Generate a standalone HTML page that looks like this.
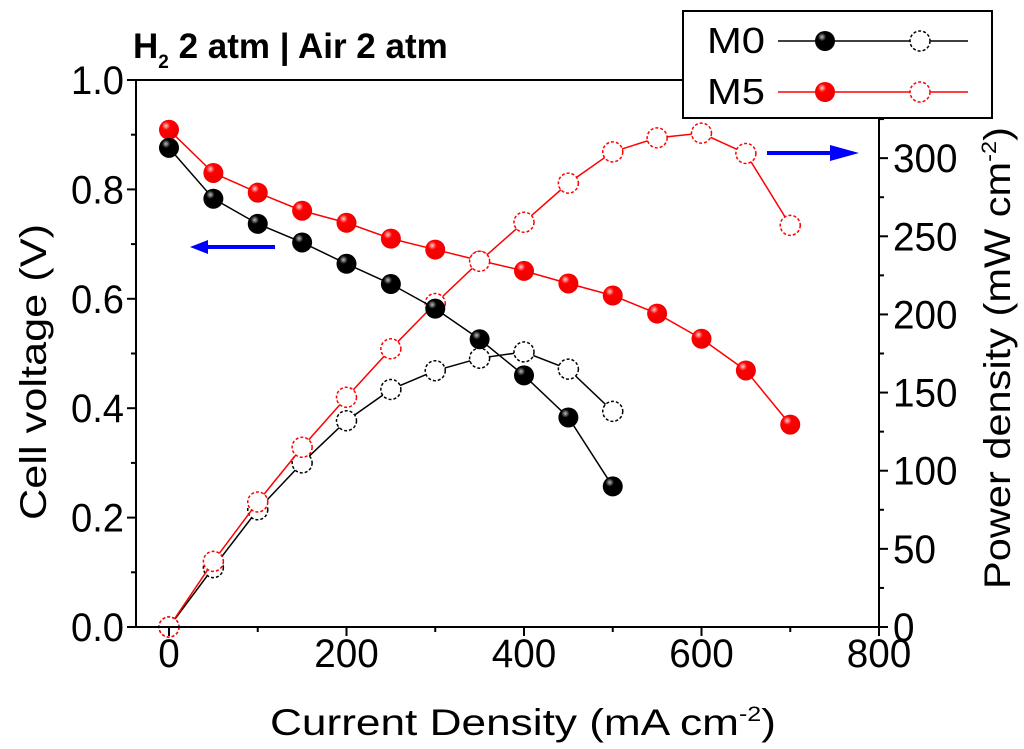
<!DOCTYPE html>
<html><head><meta charset="utf-8"><style>
html,body{margin:0;padding:0;background:#fff;}
svg{display:block;font-family:"Liberation Sans",Arial,sans-serif;}
</style></head><body>
<svg id="chart" width="1024" height="749" viewBox="0 0 1024 749">
<defs>
<radialGradient id="gb" cx="0.35" cy="0.3" r="0.7"><stop offset="0" stop-color="#bbb"/><stop offset="0.3" stop-color="#000"/><stop offset="1" stop-color="#000"/></radialGradient>
<radialGradient id="gr" cx="0.35" cy="0.3" r="0.7"><stop offset="0" stop-color="#fcc"/><stop offset="0.3" stop-color="#f00"/><stop offset="1" stop-color="#e00"/></radialGradient>
</defs>
<g id="marks"></g>
<g id="axes"></g>
<text x="133" y="58" font-size="35" font-weight="bold">H<tspan font-size="19" dy="10">2</tspan><tspan dy="-10"> 2 atm | Air 2 atm</tspan></text>
<text transform="translate(46,372) rotate(-90)" text-anchor="middle" font-size="37" textLength="296" lengthAdjust="spacingAndGlyphs">Cell voltage (V)</text>
<text transform="translate(1010,358) rotate(-90)" text-anchor="middle" font-size="37" textLength="462" lengthAdjust="spacingAndGlyphs">Power density (mW cm<tspan font-size="21" dy="-14">-2</tspan><tspan dy="14">)</tspan></text>
<text x="270" y="735" font-size="37" textLength="506" lengthAdjust="spacingAndGlyphs">Current Density (mA cm<tspan font-size="21" dy="-14">-2</tspan><tspan dy="14">)</tspan></text>
<g><line x1="275" y1="247" x2="205" y2="247" stroke="#00f" stroke-width="4"/><polygon points="190,247 208,240 208,254" fill="#00f"/></g>
<g><line x1="767" y1="153" x2="840" y2="153" stroke="#00f" stroke-width="4"/><polygon points="859,153 830,145 830,161" fill="#00f"/></g>
<g>
<rect x="683" y="11" width="309" height="107" fill="#fff" stroke="#000" stroke-width="2"/>
<text x="707" y="53" font-size="36" textLength="58" lengthAdjust="spacingAndGlyphs">M0</text>
<text x="707" y="104" font-size="36" textLength="58" lengthAdjust="spacingAndGlyphs">M5</text>
<line x1="778" y1="41" x2="968" y2="41" stroke="#000" stroke-width="1.5"/>
<circle cx="825" cy="41" r="10" fill="url(#gb)"/>
<circle cx="920" cy="41" r="10" fill="#fff" stroke="#000" stroke-width="1.5" stroke-dasharray="3,2"/>
<line x1="778" y1="92" x2="968" y2="92" stroke="#f00" stroke-width="1.5"/>
<circle cx="825" cy="92" r="10" fill="url(#gr)"/>
<circle cx="920" cy="92" r="10" fill="#fff" stroke="#f00" stroke-width="1.5" stroke-dasharray="3,2"/>
</g>
</svg>
<script>
const currents=[0,50,100,150,200,250,300,350,400,450,500,550,600,650,700];
const m0Voltage=[0.876,0.783,0.737,0.703,0.664,0.627,0.582,0.526,0.460,0.383,0.257];
const m5Voltage=[0.909,0.830,0.794,0.761,0.739,0.710,0.690,0.670,0.651,0.628,0.606,0.573,0.527,0.469,0.370];
const m0Power=[0,38,75,105,132,152,164,172,176,165,138];
const m5Power=[0,42,80,115,147,178,207,234,259,284,304,313,316,303,257];
const xTicks=[0,200,400,600,800];
const yLeftTicks=[0.0,0.2,0.4,0.6,0.8,1.0];
const yRightTicks=[0,50,100,150,200,250,300];
const L=136,R=879,T=80,B=627;
const X=v=>169+(v/800)*(879-169);
const YL=v=>B-v*(B-T);
const YR=v=>B-v/350*(B-T);
const NS='http://www.w3.org/2000/svg';
function mk(tag,attrs,parent){const e=document.createElementNS(NS,tag);for(const k in attrs)e.setAttribute(k,attrs[k]);parent.appendChild(e);return e;}
function tw(s){let w=0;for(const ch of s)w+=(ch==='.'?10:21.5);return w;}
const ax=document.getElementById('axes'),mg=document.getElementById('marks');
const frame=mk('rect',{x:L,y:T,width:R-L,height:B-T,fill:'none',stroke:'#000','stroke-width':2},ax);


xTicks.forEach(v=>{const x=X(v);mk('line',{x1:x,y1:B,x2:x,y2:B+9,stroke:'#000','stroke-width':2},ax);
 if(v<800){mk('line',{x1:X(v+100),y1:B,x2:X(v+100),y2:B+5,stroke:'#000','stroke-width':2},ax);}
 const s=String(v);
 const t=mk('text',{x:x,y:B+40,'text-anchor':'middle','font-size':40,textLength:tw(s),lengthAdjust:'spacingAndGlyphs'},ax);t.textContent=s;
 
 });
yLeftTicks.forEach(v=>{const y=YL(v);mk('line',{x1:L-9,y1:y,x2:L,y2:y,stroke:'#000','stroke-width':2},ax);
 if(v<1){mk('line',{x1:L-5,y1:YL(v+0.1),x2:L,y2:YL(v+0.1),stroke:'#000','stroke-width':2},ax);}
 const s=v.toFixed(1);
 const t=mk('text',{x:L-12-tw(s),y:y+14,'font-size':40,textLength:tw(s),lengthAdjust:'spacingAndGlyphs'},ax);t.textContent=s;
 
 });
yRightTicks.forEach(v=>{const y=YR(v);mk('line',{x1:R,y1:y,x2:R+9,y2:y,stroke:'#000','stroke-width':2},ax);
 mk('line',{x1:R,y1:YR(v+25),x2:R+5,y2:YR(v+25),stroke:'#000','stroke-width':2},ax);
 const s=String(v);
 const t=mk('text',{x:R+14,y:y+14,'font-size':40,textLength:tw(s),lengthAdjust:'spacingAndGlyphs'},ax);t.textContent=s;
 
 });
function series(vals,yf,color,filled,name){
 const pts=vals.map((v,i)=>[X(currents[i]),yf(v)]);
 const pl=mk('polyline',{points:pts.map(p=>p.join(',')).join(' '),fill:'none',stroke:color,'stroke-width':1.5},mg);
 
 
 pts.forEach(p=>{const c=mk('circle',filled?{cx:p[0],cy:p[1],r:10,fill:color==='#000'?'url(#gb)':'url(#gr)'}:{cx:p[0],cy:p[1],r:10,fill:'#fff',stroke:color,'stroke-width':1.5,'stroke-dasharray':'3,2'},mg);
  
  });
}
series(m0Power,YR,'#000',false,'m0-power');
series(m5Voltage,YL,'#f00',true,'m5-voltage');
series(m5Power,YR,'#f00',false,'m5-power');
series(m0Voltage,YL,'#000',true,'m0-voltage');
</script>
</body></html>
